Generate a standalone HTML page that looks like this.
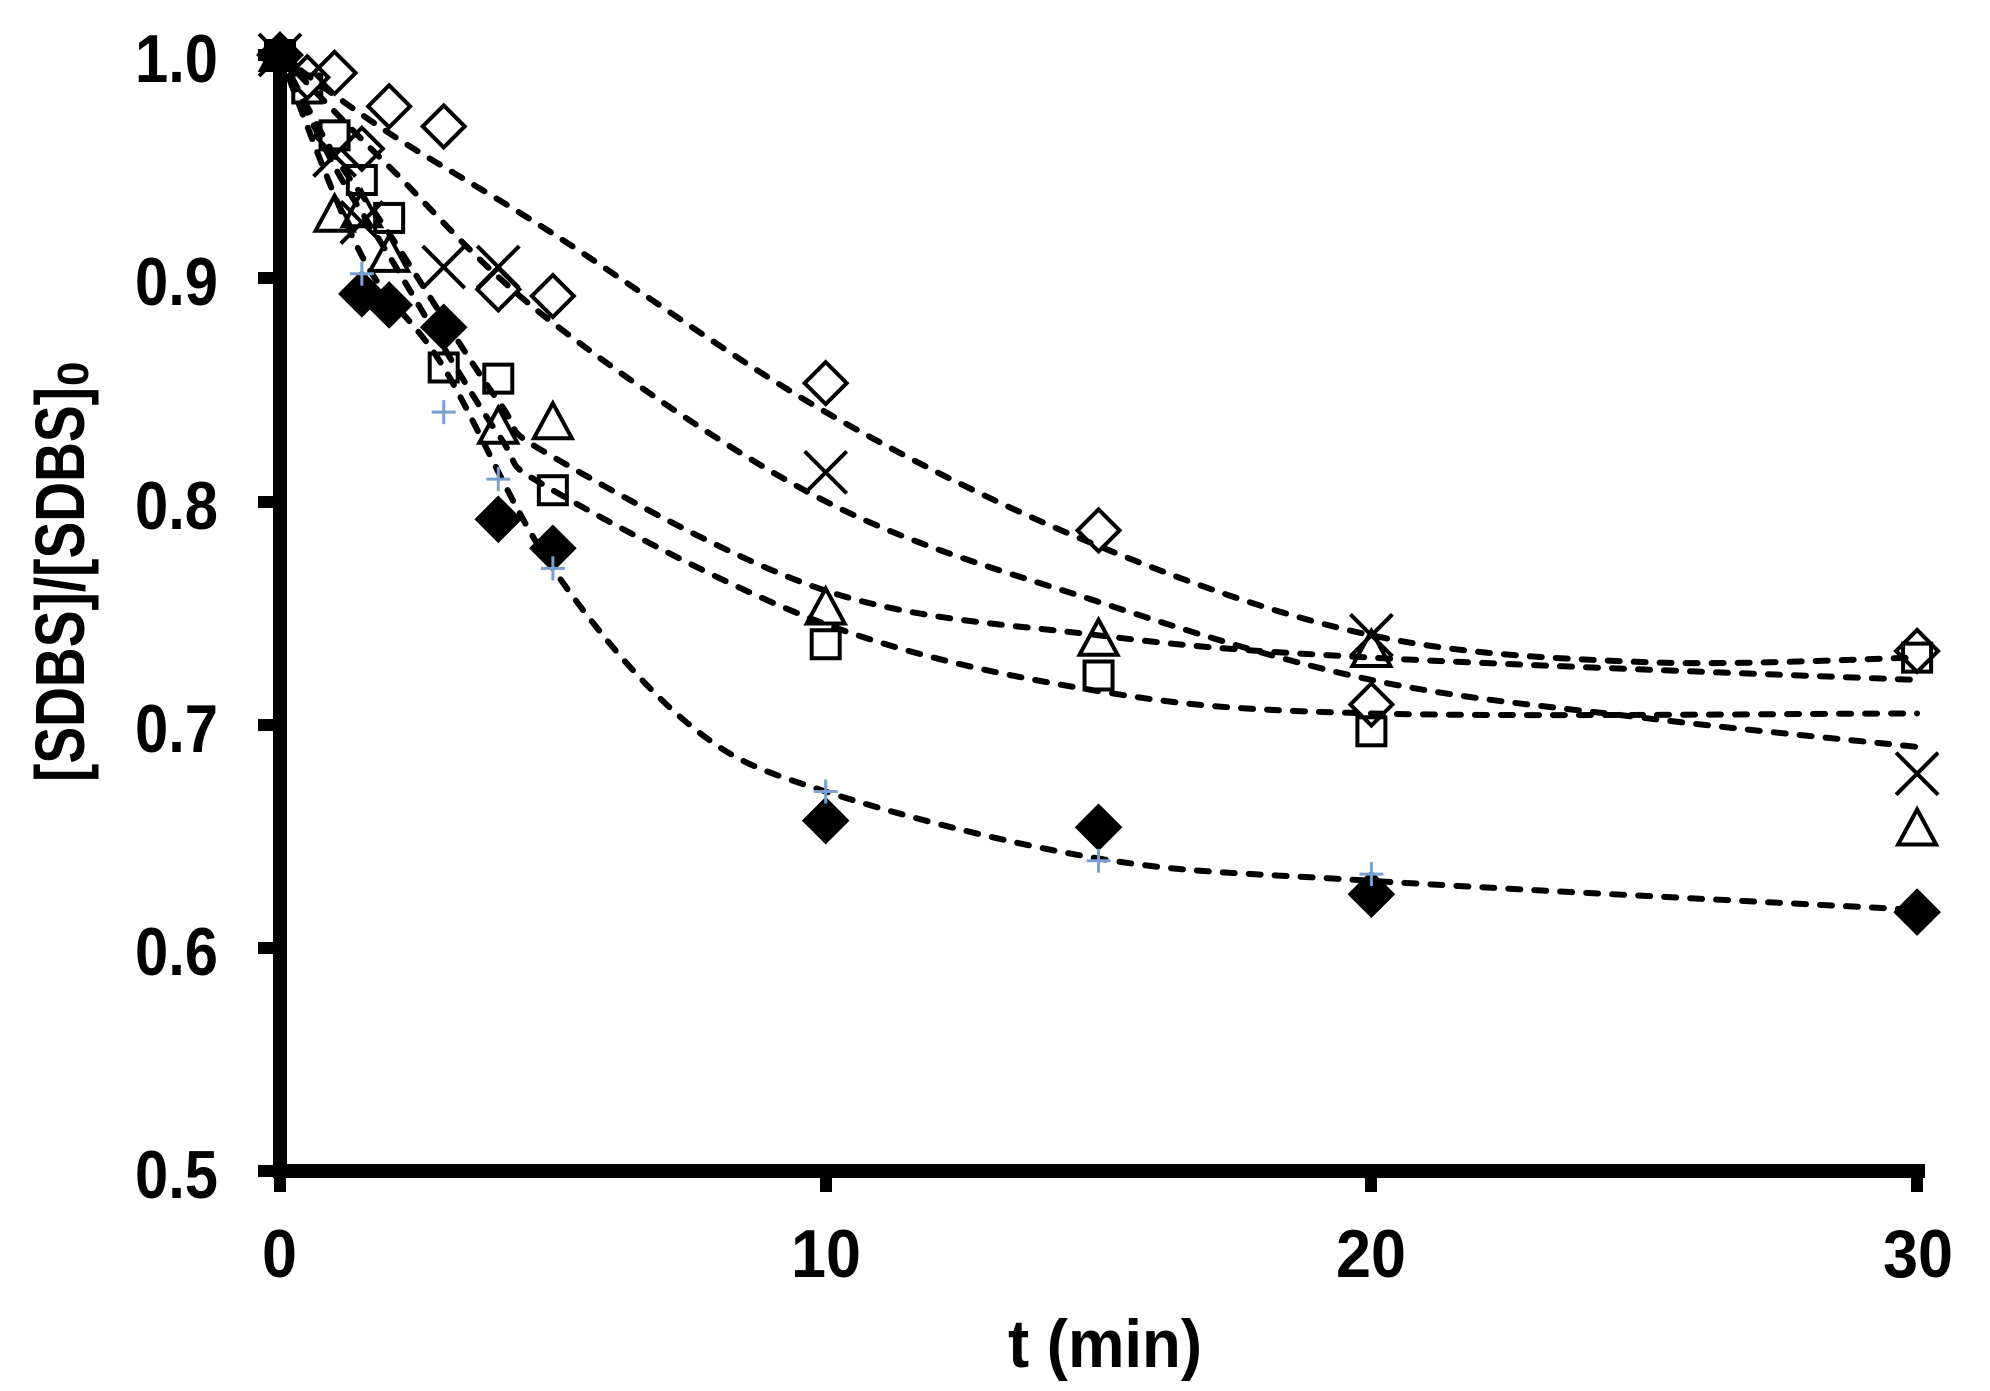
<!DOCTYPE html>
<html><head><meta charset="utf-8"><style>
html,body{margin:0;padding:0;background:#fff;}
svg{display:block;}
text{font-family:"Liberation Sans",Arial,sans-serif;font-weight:bold;fill:#000;}
</style></head><body>
<svg id="s" width="1990" height="1391" xmlns="http://www.w3.org/2000/svg">
<g id="curves" fill="none" stroke="#000" stroke-width="6" stroke-dasharray="12 14" stroke-linecap="round"></g>
<g id="marks"></g>
<line x1="280" y1="48" x2="280" y2="1178" stroke="#000" stroke-width="14"/>
<line x1="273" y1="1171" x2="1925" y2="1171" stroke="#000" stroke-width="14"/>
<g stroke="#000" stroke-width="12">
<line x1="258" y1="55" x2="280" y2="55"/><line x1="258" y1="278" x2="280" y2="278"/>
<line x1="258" y1="502" x2="280" y2="502"/><line x1="258" y1="725" x2="280" y2="725"/>
<line x1="258" y1="948" x2="280" y2="948"/><line x1="258" y1="1171" x2="280" y2="1171"/>
<line x1="280" y1="1171" x2="280" y2="1192"/><line x1="826" y1="1171" x2="826" y2="1192"/>
<line x1="1371" y1="1171" x2="1371" y2="1192"/><line x1="1917" y1="1171" x2="1917" y2="1192"/>
</g>
<g font-size="68">
<text x="135" y="82" textLength="83" lengthAdjust="spacingAndGlyphs">1.0</text>
<text x="135" y="305" textLength="83" lengthAdjust="spacingAndGlyphs">0.9</text>
<text x="135" y="529" textLength="83" lengthAdjust="spacingAndGlyphs">0.8</text>
<text x="135" y="752" textLength="83" lengthAdjust="spacingAndGlyphs">0.7</text>
<text x="135" y="975" textLength="83" lengthAdjust="spacingAndGlyphs">0.6</text>
<text x="135" y="1198" textLength="83" lengthAdjust="spacingAndGlyphs">0.5</text>
<text x="262" y="1277" textLength="35" lengthAdjust="spacingAndGlyphs">0</text>
<text x="791" y="1277" textLength="70" lengthAdjust="spacingAndGlyphs">10</text>
<text x="1336" y="1277" textLength="70" lengthAdjust="spacingAndGlyphs">20</text>
<text x="1883" y="1277" textLength="70" lengthAdjust="spacingAndGlyphs">30</text>
<text x="1008" y="1367" textLength="194" lengthAdjust="spacingAndGlyphs">t (min)</text>
</g>
<text transform="translate(84,782) rotate(-90)" font-size="70" textLength="395" lengthAdjust="spacingAndGlyphs">[SDBS]/[SDBS]</text>
<text transform="translate(88,386) rotate(-90)" font-size="44">0</text>
</svg>
<script>
var X=function(t){return 280+t*54.57},Y=function(v){return 1171-(v-0.5)*2232};
var NS="http://www.w3.org/2000/svg";
function el(p,tag,a){var e=document.createElementNS(NS,tag);for(var k in a)e.setAttribute(k,a[k]);p.appendChild(e);return e;}
var curves=[
[[0,1],[2,.965],[5,.92],[10,.84],[15,.78],[20,.74],[25,.728],[30,.73]],
[[0,1],[2,.95],[5,.88],[10,.80],[15,.755],[20,.72],[25,.703],[30,.69]],
[[0,1],[1,.955],[2,.92],[4,.845],[5,.82],[10,.76],[15,.74],[20,.73],[30,.72]],
[[0,1],[1,.95],[2,.91],[4,.83],[5,.805],[10,.745],[15,.715],[20,.705],[30,.705]],
[[0,1],[1.5,.91],[3,.86],[5,.77],[7.5,.7],[10,.67],[15,.64],[20,.63],[30,.617]]];
var cg=document.getElementById("curves");
curves.forEach(function(c){
 var p=c.map(function(q){return[X(q[0]),Y(q[1])]});
 var d="M"+p[0][0]+","+p[0][1];
 for(var i=0;i<p.length-1;i++){
  var p0=p[i-1]||p[i],p1=p[i],p2=p[i+1],p3=p[i+2]||p2;
  d+=" C"+(p1[0]+(p2[0]-p0[0])/6)+","+(p1[1]+(p2[1]-p0[1])/6)+" "+(p2[0]-(p3[0]-p1[0])/6)+","+(p2[1]-(p3[1]-p1[1])/6)+" "+p2[0]+","+p2[1];
 }
 el(cg,"path",{d:d});
});
var mg=document.getElementById("marks");
function dia(t,v,f){var x=X(t),y=Y(v),r=21;el(mg,"polygon",{points:(x)+","+(y-r)+" "+(x+r)+","+y+" "+x+","+(y+r)+" "+(x-r)+","+y,fill:f?"#000":"#fff","fill-opacity":f?1:0,stroke:"#000","stroke-width":4});}
function sq(t,v){var x=X(t),y=Y(v);el(mg,"rect",{x:x-14,y:y-14,width:28,height:28,fill:"none",stroke:"#000","stroke-width":4});}
function tri(t,v){var x=X(t),y=Y(v);el(mg,"polygon",{points:x+","+(y-20)+" "+(x+19)+","+(y+15)+" "+(x-19)+","+(y+15),fill:"none",stroke:"#000","stroke-width":4});}
function cross(t,v){var x=X(t),y=Y(v),r=21;el(mg,"path",{d:"M"+(x-r)+","+(y-r)+"L"+(x+r)+","+(y+r)+"M"+(x+r)+","+(y-r)+"L"+(x-r)+","+(y+r),stroke:"#000","stroke-width":4});}
function plus(t,v){var x=X(t),y=Y(v),r=12;el(mg,"path",{d:"M"+(x-r)+","+y+"L"+(x+r)+","+y+"M"+x+","+(y-r)+"L"+x+","+(y+r),stroke:"#7a9fd0","stroke-width":3});}
[[0,1],[.5,.99],[1,.992],[1.5,.958],[2,.977],[3,.968],[4,.895],[5,.892],[10,.853],[15,.787],[20,.709],[30,.733]].forEach(function(a){dia(a[0],a[1],false)});
[[0,1],[1,.955],[1.5,.925],[3,.905],[4,.905],[10,.813],[20,.740],[30,.678]].forEach(function(a){cross(a[0],a[1])});
[[0,1],[.5,.985],[1,.964],[1.5,.944],[2,.927],[3,.86],[4,.855],[5,.805],[10,.736],[15,.722],[20,.697],[30,.730]].forEach(function(a){sq(a[0],a[1])});
[[0,1],[1,.928],[1.5,.93],[2,.91],[4,.833],[5,.835],[10,.752],[15,.738],[20,.733],[30,.653]].forEach(function(a){tri(a[0],a[1])});
[[0,1],[1.5,.893],[2,.888],[3,.878],[4,.792],[5,.779],[10,.657],[15,.654],[20,.624],[30,.616]].forEach(function(a){dia(a[0],a[1],true)});
[[1.5,.902],[3,.84],[4,.81],[5,.77],[10,.67],[15,.639],[20,.633]].forEach(function(a){plus(a[0],a[1])});
</script>
</body></html>
